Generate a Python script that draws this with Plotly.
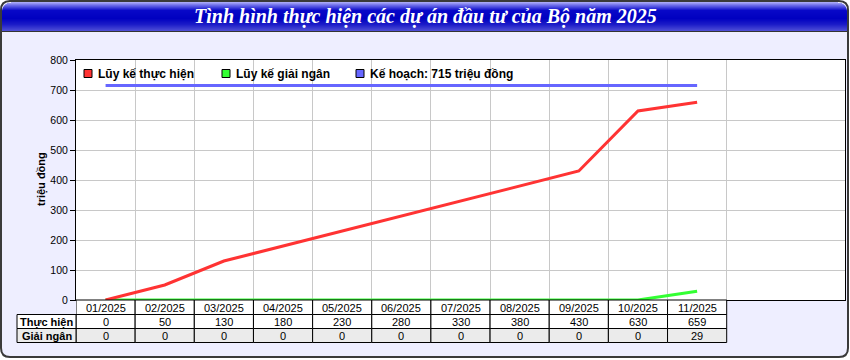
import plotly.graph_objects as go

# ---------------- data ----------------
months = ["01/2025", "02/2025", "03/2025", "04/2025", "05/2025", "06/2025",
          "07/2025", "08/2025", "09/2025", "10/2025", "11/2025"]
thuc_hien = [0, 50, 130, 180, 230, 280, 330, 380, 430, 630, 659]
giai_ngan = [0, 0, 0, 0, 0, 0, 0, 0, 0, 0, 29]
ke_hoach = 715
series_names = ["Lũy kế thực hiện", "Lũy kế giải ngân", f"Kế hoạch: {ke_hoach} triệu đồng"]
row_labels = ["Thực hiện", "Giải ngân"]
y_ticks = [0, 100, 200, 300, 400, 500, 600, 700, 800]
title_text = "Tình hình thực hiện các dự án đầu tư của Bộ năm 2025"
y_title = "triệu đồng"

# ---------------- styling ----------------
W, H = 850, 360
L, R, T, B = 76, 5, 60, 60
PW, PH = W - L - R, H - T - B
RED, GREEN, BLUE = "#FF3333", "#33FF33", "#6666FF"
LAV = "#EEEEFF"
FONT = "Liberation Sans, Arial, sans-serif"


def px(x):
    return (x - L) / PW


def py(y):
    return (H - B - y) / PH


fig = go.Figure()
fig.add_trace(go.Scatter(x=months, y=[ke_hoach] * len(months), mode="lines",
                         line=dict(color=BLUE, width=3), hoverinfo="skip", showlegend=False))
fig.add_trace(go.Scatter(x=months, y=giai_ngan, mode="lines",
                         line=dict(color=GREEN, width=3), hoverinfo="skip", showlegend=False))
fig.add_trace(go.Scatter(x=months, y=thuc_hien, mode="lines",
                         line=dict(color=RED, width=3), hoverinfo="skip", showlegend=False))

shapes = []
annotations = []

# outer frame (rounded)
x0, x1, y0, y1, r = 1, 848, 1, 357, 9
path = (f"M {px(x0+r)},{py(y0)} L {px(x1-r)},{py(y0)} Q {px(x1)},{py(y0)} {px(x1)},{py(y0+r)} "
        f"L {px(x1)},{py(y1-r)} Q {px(x1)},{py(y1)} {px(x1-r)},{py(y1)} "
        f"L {px(x0+r)},{py(y1)} Q {px(x0)},{py(y1)} {px(x0)},{py(y1-r)} "
        f"L {px(x0)},{py(y0+r)} Q {px(x0)},{py(y0)} {px(x0+r)},{py(y0)} Z")
shapes.append(dict(type="path", xref="paper", yref="paper", path=path, fillcolor=LAV,
                   line=dict(color="#3a3a3a", width=2), layer="below"))

# title bar gradient strips
def hexc(c):
    return tuple(int(c[i:i + 2], 16) for i in (1, 3, 5))


stops = [(2, "#A8A8F8"), (5, "#6868E8"), (10, "#0808C8"), (18, "#0000C0"),
         (24, "#1C1CC8"), (31, "#5454D8")]


def color_at(y):
    for (ya, ca), (yb, cb) in zip(stops, stops[1:]):
        if ya <= y <= yb:
            t = (y - ya) / (yb - ya)
            a, b = hexc(ca), hexc(cb)
            return "rgb(%d,%d,%d)" % tuple(round(a[i] + (b[i] - a[i]) * t) for i in range(3))
    return stops[-1][1]


for yy in range(2, 31):
    inset = 0
    if yy < 2 + r:
        d = r - (yy - 2)
        inset = r - (r * r - d * d) ** 0.5
    shapes.append(dict(type="rect", xref="paper", yref="paper",
                       x0=px(2 + inset), x1=px(847 - inset), y0=py(yy + 1), y1=py(yy),
                       fillcolor=color_at(yy), line=dict(width=0), layer="below"))
shapes.append(dict(type="line", xref="paper", yref="paper", x0=px(2), x1=px(847),
                   y0=py(31.5), y1=py(31.5), line=dict(color="#333333", width=1), layer="below"))

# white plot area
shapes.append(dict(type="rect", xref="paper", yref="paper", x0=0, x1=1, y0=0, y1=1,
                   fillcolor="white", line=dict(width=0), layer="below"))

annotations.append(dict(text=f"<b><i>{title_text}</i></b>", xref="paper", yref="paper",
                        x=px(425), y=py(17), showarrow=False, xanchor="center", yanchor="middle",
                        font=dict(family="Liberation Serif, Times New Roman, serif", size=20,
                                  color="white")))

# legend (custom squares + text)
leg_sq_x = [84, 222, 356]
leg_tx_x = [96, 234, 368]
for name, col, sx, tx in zip(series_names, [RED, GREEN, BLUE], leg_sq_x, leg_tx_x):
    shapes.append(dict(type="rect", xref="paper", yref="paper", x0=px(sx), x1=px(sx + 8),
                       y0=py(77.5), y1=py(69.5), fillcolor=col,
                       line=dict(color="black", width=1), layer="above"))
    annotations.append(dict(text=f"<b>{name}</b>", xref="paper", yref="paper", x=px(tx), y=py(74),
                            showarrow=False, xanchor="left", yanchor="middle",
                            font=dict(family=FONT, size=12, color="black")))

# y axis title
annotations.append(dict(text=f"<b>{y_title}</b>", xref="paper", yref="paper", x=px(41), y=py(179),
                        showarrow=False, textangle=-90, xanchor="center", yanchor="middle",
                        font=dict(family=FONT, size=11, color="black")))

# data table below the plot
row_top = [300, 314.5, 328.5]
row_bot = [314.5, 328.5, 342.5]
row_fill = ["white", "white", "#EBEBEB"]
row_vals = [months, [str(v) for v in thuc_hien], [str(v) for v in giai_ngan]]
for ri in range(3):
    for ci, val in enumerate(row_vals[ri]):
        shapes.append(dict(type="rect", xref="x", yref="paper", x0=ci - 0.5, x1=ci + 0.5,
                           y0=py(row_bot[ri]), y1=py(row_top[ri]), fillcolor=row_fill[ri],
                           line=dict(color="black", width=1), layer="above"))
        annotations.append(dict(text=val, xref="x", yref="paper", x=ci,
                                y=py((row_top[ri] + row_bot[ri]) / 2 + 0.5),
                                showarrow=False, xanchor="center", yanchor="middle",
                                font=dict(family=FONT, size=11, color="black")))
    if ri > 0:
        shapes.append(dict(type="rect", xref="paper", yref="paper", x0=px(17), x1=px(76),
                           y0=py(row_bot[ri]), y1=py(row_top[ri]), fillcolor=row_fill[ri],
                           line=dict(color="black", width=1), layer="above"))
        annotations.append(dict(text=f"<b>{row_labels[ri-1]}</b>", xref="paper", yref="paper",
                                x=px(46.5), y=py((row_top[ri] + row_bot[ri]) / 2 + 0.5),
                                showarrow=False, xanchor="center", yanchor="middle",
                                font=dict(family=FONT, size=11, color="black")))

fig.update_layout(
    width=W, height=H,
    margin=dict(l=L, r=R, t=T, b=B, pad=0),
    paper_bgcolor="white",
    plot_bgcolor="white",
    showlegend=False,
    shapes=shapes,
    annotations=annotations,
    font=dict(family=FONT, size=10, color="black"),
    xaxis=dict(type="category", categoryorder="array", categoryarray=months,
               range=[-0.5, 12.5], tickson="boundaries", showgrid=True, gridcolor="#C8C8C8",
               gridwidth=1, ticks="", showticklabels=False, showline=True, linecolor="black",
               linewidth=1, mirror=True, zeroline=False, fixedrange=True),
    yaxis=dict(range=[0, 800], tickvals=y_ticks, ticktext=[str(v) for v in y_ticks],
               showgrid=True, gridcolor="#C8C8C8", gridwidth=1, ticks="outside", ticklen=5,
               tickcolor="black", showline=True, linecolor="black", linewidth=1, mirror=True,
               zeroline=False, tickfont=dict(family=FONT, size=10.5, color="black"),
               fixedrange=True),
)

fig.write_html("out.html", config={"displayModeBar": False},
               post_script="document.body.style.margin='0';document.body.style.overflow='hidden';")
